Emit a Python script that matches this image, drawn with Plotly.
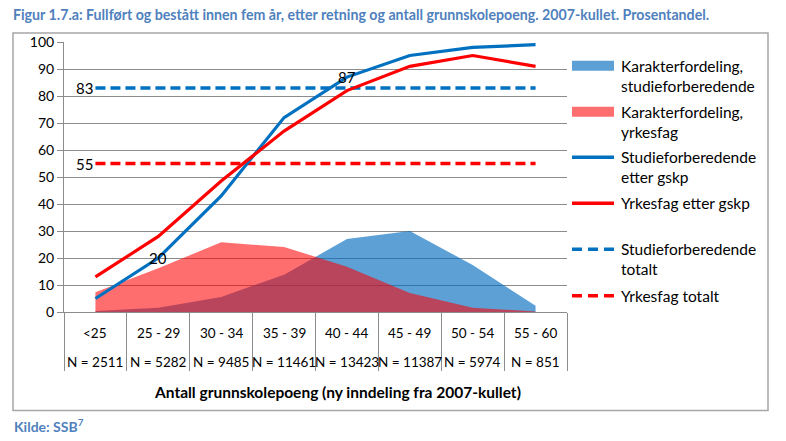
import plotly.graph_objects as go

categories = ["<25", "25 - 29", "30 - 34", "35 - 39", "40 - 44", "45 - 49", "50 - 54", "55 - 60"]
n_labels = ["N = 2511", "N = 5282", "N = 9485", "N = 11461", "N = 13423", "N = 11387", "N = 5974", "N = 851"]

karakter_studie = [0.4, 1.6, 5.6, 13.8, 27, 30, 17.4, 2.3]
karakter_yrkes = [7.3, 16.2, 25.8, 24.1, 16.8, 7.0, 1.6, 0.2]
studie_gskp = [5, 20, 43, 72, 87, 95, 98, 99]
yrkes_gskp = [13, 28, 48.5, 67, 82, 91, 95, 91]
studie_totalt = [83] * 8
yrkes_totalt = [55] * 8

legend_names = [
    ["Karakterfordeling,", "studieforberedende"],
    ["Karakterfordeling,", "yrkesfag"],
    ["Studieforberedende", "etter gskp"],
    ["Yrkesfag etter gskp"],
    ["Studieforberedende", "totalt"],
    ["Yrkesfag totalt"],
]

BLUE = "#0070C0"
RED = "#FF0000"
BLUE_AREA = "rgba(0,106,190,0.64)"
RED_AREA = "rgba(255,0,0,0.57)"
GRID = "#8C8C8C"
TITLE_BLUE = "#4F81BD"
FONT = "Lato"

# plot area in pixels (for converting layout decorations to paper coords)
PL, PR, PT, PB = 64, 567, 42, 312


def px(x):
    return (x - PL) / (PR - PL)


def py(y):
    return (PB - y) / (PB - PT)


fig = go.Figure()

fig.add_trace(go.Scatter(
    x=categories, y=karakter_studie, mode="lines", fill="tozeroy",
    fillcolor=BLUE_AREA, line=dict(width=0, color=BLUE_AREA),
    name=" ".join(legend_names[0]), showlegend=False))
fig.add_trace(go.Scatter(
    x=categories, y=karakter_yrkes, mode="lines", fill="tozeroy",
    fillcolor=RED_AREA, line=dict(width=0, color=RED_AREA),
    name=" ".join(legend_names[1]), showlegend=False))
fig.add_trace(go.Scatter(
    x=categories, y=studie_totalt, mode="lines",
    line=dict(color=BLUE, width=3.5, dash="10px,5px"),
    name=" ".join(legend_names[4]), showlegend=False))
fig.add_trace(go.Scatter(
    x=categories, y=yrkes_totalt, mode="lines",
    line=dict(color=RED, width=3.5, dash="10px,5px"),
    name=" ".join(legend_names[5]), showlegend=False))
fig.add_trace(go.Scatter(
    x=categories, y=studie_gskp, mode="lines",
    line=dict(color=BLUE, width=3.2),
    name=" ".join(legend_names[2]), showlegend=False))
fig.add_trace(go.Scatter(
    x=categories, y=yrkes_gskp, mode="lines",
    line=dict(color=RED, width=3.2),
    name=" ".join(legend_names[3]), showlegend=False))

annotations = []
lab_font = dict(family=FONT, size=15, color="black")
# data labels
annotations.append(dict(x=categories[0], y=studie_totalt[0], xref="x", yref="y",
                        text=str(studie_totalt[0]), showarrow=False, xanchor="right",
                        yanchor="middle", font=lab_font))
annotations.append(dict(x=categories[0], y=yrkes_totalt[0], xref="x", yref="y",
                        text=str(yrkes_totalt[0]), showarrow=False, xanchor="right",
                        yanchor="middle", font=lab_font))
for i in (1, 4):
    annotations.append(dict(x=categories[i], y=studie_gskp[i], xref="x", yref="y",
                            text=str(studie_gskp[i]), showarrow=False, xanchor="center",
                            yanchor="middle", font=lab_font))
# category labels, two rows
cat_font = dict(family=FONT, size=13.5, color="black")
for c, n in zip(categories, n_labels):
    annotations.append(dict(x=c, y=py(332.5), xref="x", yref="paper", text=c, showarrow=False,
                            xanchor="center", yanchor="middle", font=cat_font))
    annotations.append(dict(x=c, y=py(361.5), xref="x", yref="paper", text=n, showarrow=False,
                            xanchor="center", yanchor="middle", font=cat_font))
annotations.append(dict(x=px(337), y=py(391.5), xref="paper", yref="paper",
                        text="<b>Antall grunnskolepoeng (ny inndeling fra 2007-kullet)</b>",
                        showarrow=False, xanchor="center", yanchor="middle",
                        font=dict(family=FONT, size=15.5, color="black")))
annotations.append(dict(x=px(12), y=py(425), xref="paper", yref="paper",
                        text="<b>Kilde: SSB<sup>7</sup></b>", showarrow=False,
                        xanchor="left", yanchor="middle",
                        font=dict(family=FONT, size=14, color=TITLE_BLUE)))

# manual legend
shapes = [dict(type="rect", xref="paper", yref="paper", x0=px(13), x1=px(768),
               y0=py(410.5), y1=py(33), line=dict(color="#A6A6A6", width=1.5),
               fillcolor="rgba(0,0,0,0)", layer="below")]
leg_y = [65.7, 111.7, 157.3, 203.3, 249.3, 295.7]
leg_style = [("area", BLUE_AREA, None), ("area", RED_AREA, None),
             ("line", BLUE, "solid"), ("line", RED, "solid"),
             ("line", BLUE, "10px,6px"), ("line", RED, "10px,6px")]
leg_font = dict(family=FONT, size=15.5, color="black")
for yc, (kind, col, dash), names in zip(leg_y, leg_style, legend_names):
    if kind == "area":
        shapes.append(dict(type="rect", xref="paper", yref="paper",
                           x0=px(572), x1=px(614), y0=py(yc + 5), y1=py(yc - 5),
                           fillcolor=col, line=dict(width=0)))
    else:
        shapes.append(dict(type="line", xref="paper", yref="paper",
                           x0=px(572), x1=px(614), y0=py(yc), y1=py(yc),
                           line=dict(color=col, width=3.5, dash=dash)))
    for k, nm in enumerate(names):
        annotations.append(dict(x=px(619), y=py(yc + 20 * k), xref="paper", yref="paper",
                                text=nm, showarrow=False, xanchor="left", yanchor="middle",
                                font=leg_font))

fig.update_layout(
    width=786, height=441,
    margin=dict(l=PL, r=786 - PR, t=PT, b=441 - PB),
    plot_bgcolor="white", paper_bgcolor="white",
    showlegend=False,
    font=dict(family=FONT, size=14, color="black"),
    title=dict(text="<b>Figur 1.7.a: Fullført og bestått innen fem år, etter retning og antall grunnskolepoeng. 2007-kullet. Prosentandel.</b>",
               x=13 / 786, xref="container", xanchor="left",
               y=1 - 15 / 441, yref="container", yanchor="middle",
               font=dict(family=FONT, size=14.2, color=TITLE_BLUE)),
    xaxis=dict(type="category", range=[-0.5, 7.5], showticklabels=False,
               tickson="boundaries", ticks="outside", ticklen=58, tickcolor=GRID,
               showgrid=False, showline=True, linecolor=GRID, linewidth=1, zeroline=False),
    yaxis=dict(range=[0, 100], dtick=10, showgrid=True, gridcolor=GRID, gridwidth=1,
               showline=True, linecolor=GRID, linewidth=1, ticks="outside", ticklen=6,
               tickcolor=GRID, zeroline=False,
               tickfont=dict(family=FONT, size=14, color="black")),
    annotations=annotations,
    shapes=shapes,
)

fig.write_html("out.html", config={"displayModeBar": False},
               post_script="document.body.style.margin='0';")
